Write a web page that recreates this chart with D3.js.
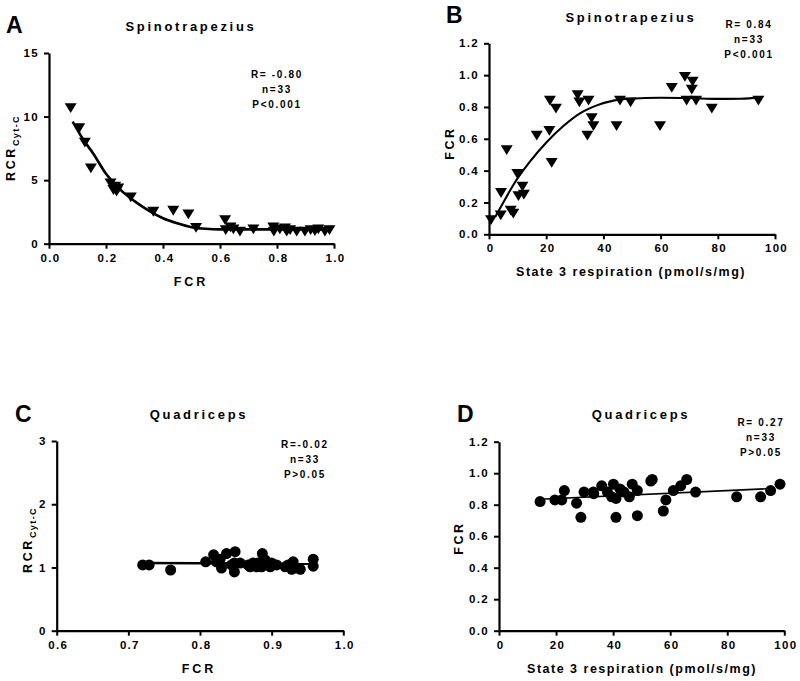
<!DOCTYPE html>
<html><head><meta charset="utf-8">
<script src="https://cdn.jsdelivr.net/npm/d3@7"></script>
<style>
body{margin:0;background:#fff;}
svg{display:block;font-family:"Liberation Sans",Arial,sans-serif;font-weight:bold;}
</style></head>
<body><svg id="c" width="800" height="681"></svg>
<script>
// ---- Panel A: Spinotrapezius, RCR vs FCR ----
const aFcr = [0.076,0.106,0.126,0.147,0.216,0.226,0.243,0.237,0.287,0.366,0.436,0.489,0.516,0.618,0.620,0.637,0.670,0.717,0.787,0.789,0.828,0.834,0.869,0.898,0.918,0.945,0.968,0.984,0.810,0.647,0.846,0.933,0.232];
const aRcr = [10.67,9.09,7.96,5.94,4.76,4.23,4.36,4.10,3.65,2.52,2.60,2.31,1.26,1.87,1.08,1.29,0.95,1.13,1.29,0.95,1.21,0.95,0.95,0.95,1.08,1.13,0.95,1.08,1.13,1.13,1.08,1.0,4.49];
const aFitX = [0.083,0.12,0.155,0.2,0.25,0.3,0.35,0.4,0.45,0.5,0.55,0.6,0.7,0.8,0.9,0.985];
const aFitY = [9.6,8.2,7.1,5.5,4.25,3.35,2.6,2.0,1.6,1.3,1.17,1.13,1.13,1.13,1.13,1.13];
const aXTicks = [0,0.2,0.4,0.6,0.8,1.0];
const aYTicks = [0,5,10,15];
const aStats = ["R= -0.80","n=33","P<0.001"];

// ---- Panel B: Spinotrapezius, FCR vs State 3 ----
const bState3 = [0.7,4.1,4.2,6.2,7.6,8.5,9.9,10.3,11.7,12.2,16.7,21.1,21.9,21.3,23.4,31.0,31.6,34.8,34.4,35.9,36.5,44.6,45.8,49.5,59.8,63.9,68.5,69.1,71.2,70.9,72.4,77.9,94.2];
const bFcr = [0.09,0.12,0.26,0.53,0.15,0.13,0.38,0.24,0.30,0.25,0.62,0.65,0.45,0.84,0.79,0.875,0.83,0.84,0.62,0.73,0.68,0.68,0.84,0.83,0.68,0.92,0.99,0.84,0.96,0.91,0.84,0.79,0.84];
const bFitX = [2.2,5,8.5,14.3,20.2,26,31.8,37.7,43.5,49.3,60,70,80,88,95];
const bFitY = [0.11,0.2,0.31,0.456,0.58,0.68,0.76,0.81,0.84,0.852,0.858,0.856,0.851,0.852,0.86];
const bXTicks = [0,20,40,60,80,100];
const bYTicks = [0,0.2,0.4,0.6,0.8,1.0,1.2];
const bStats = ["R= 0.84","n=33","P<0.001"];

// ---- Panel C: Quadriceps, RCR vs FCR ----
const cFcr = [0.720,0.729,0.759,0.808,0.819,0.823,0.830,0.837,0.849,0.848,0.848,0.867,0.874,0.881,0.887,0.888,0.900,0.898,0.919,0.930,0.928,0.940,0.958,0.958,0.828,0.844,0.886,0.870,0.907,0.923,0.879,0.891,0.856];
const cRcr = [1.04,1.04,0.96,1.09,1.20,1.09,0.99,1.22,1.25,1.07,0.93,1.04,1.07,1.07,1.22,1.04,1.07,1.01,1.01,1.09,0.97,0.97,1.13,1.02,1.13,1.04,1.01,1.01,1.04,1.04,1.01,1.12,1.07];
const cFitX = [0.72,0.96];
const cFitY = [1.07,1.06];
const cXTicks = [0.6,0.7,0.8,0.9,1.0];
const cYTicks = [0,1,2,3];
const cStats = ["R=-0.02","n=33","P>0.05"];

// ---- Panel D: Quadriceps, FCR vs State 3 ----
const dState3 = [14.4,19.6,22.0,22.9,27.2,28.7,29.8,33.1,33.2,36.0,40.1,39.5,41.0,41.0,42.4,43.8,45.7,46.7,48.5,48.5,53.2,53.7,57.6,58.5,61.1,63.7,65.8,68.9,83.3,91.7,95.2,98.5,38.0];
const dFcr = [0.82,0.83,0.83,0.89,0.81,0.72,0.88,0.88,0.87,0.92,0.93,0.85,0.84,0.72,0.90,0.88,0.85,0.93,0.89,0.73,0.95,0.96,0.76,0.83,0.89,0.92,0.96,0.88,0.85,0.85,0.89,0.93,0.88];
const dFitX = [14.4,96];
const dFitY = [0.835,0.903];
const dXTicks = [0,20,40,60,80,100];
const dYTicks = [0,0.2,0.4,0.6,0.8,1.0,1.2];
const dStats = ["R= 0.27","n=33","P>0.05"];

const svg = d3.select("#c");

function panel(o){
  const x = d3.scaleLinear().domain(o.xd).range([o.x0,o.x1]);
  const y = d3.scaleLinear().domain(o.yd).range([o.y0,o.y1]);
  const g = svg.append("g");
  const xa = g.append("g").attr("transform",`translate(0,${o.y0})`)
    .call(d3.axisBottom(x).tickValues(o.xt).tickFormat(o.xf).tickSize(5).tickPadding(5).tickSizeOuter(0));
  const ya = g.append("g").attr("transform",`translate(${o.x0},0)`)
    .call(d3.axisLeft(y).tickValues(o.yt).tickFormat(o.yf).tickSize(5).tickPadding(5).tickSizeOuter(0));
  [xa,ya].forEach(a=>{
    a.select(".domain").attr("stroke","#000").attr("stroke-width",2.2);
    a.selectAll(".tick line").attr("stroke","#000").attr("stroke-width",2);
    a.selectAll("text").attr("fill","#000").attr("font-size",11.5).attr("font-weight","bold")
      .attr("font-family","Liberation Sans, Arial, sans-serif").attr("letter-spacing",1.3);
  });
  xa.selectAll("text").attr("dx",1);
  // fit line
  const line = d3.line().x((d,i)=>x(o.fx[i])).y((d,i)=>y(o.fy[i])).curve(d3.curveMonotoneX);
  g.append("path").attr("d",line(o.fx)).attr("fill","none").attr("stroke","#000").attr("stroke-width",o.lw);
  // points
  const pts = g.append("g");
  o.px.forEach((v,i)=>{
    const cx = x(v), cy = y(o.py[i]);
    if(o.shape==="tri"){
      pts.append("path").attr("d",`M${cx-6},${cy-4.8}L${cx+6},${cy-4.8}L${cx},${cy+5}Z`).attr("fill","#000");
    } else {
      pts.append("circle").attr("cx",cx).attr("cy",cy).attr("r",5.5).attr("fill","#000");
    }
  });
  // panel letter
  svg.append("text").attr("x",o.lx).attr("y",o.ly).attr("font-size",23).attr("font-weight","bold").text(o.letter);
  // title
  svg.append("text").attr("x",o.tx).attr("y",o.ty).attr("text-anchor","middle").attr("font-size",13)
    .attr("letter-spacing",2.7).text(o.title);
  // stats
  o.stats.forEach((s,i)=>{
    svg.append("text").attr("x",o.sx).attr("y",o.sy+i*15).attr("text-anchor","middle").attr("font-size",10)
      .attr("letter-spacing",1.7).text(s);
  });
  // x label
  svg.append("text").attr("x",o.xlx).attr("y",o.xly).attr("text-anchor","middle").attr("font-size",12.5)
    .attr("letter-spacing",o.xls).text(o.xlabel);
  // y label
  const yl = svg.append("text").attr("transform",`translate(${o.ylx},${o.yly}) rotate(-90)`)
    .attr("text-anchor","middle").attr("font-size",12.5).attr("letter-spacing",2.6);
  yl.append("tspan").text(o.ylabel);
  if(o.ysub) yl.append("tspan").attr("font-size",9).attr("dy",4).attr("letter-spacing",1.4).text(o.ysub);
}

const f1 = d3.format(".1f"), f0 = d3.format("d");

panel({xd:[0,1],yd:[0,15],x0:49,x1:334,y0:243.7,y1:53,xt:aXTicks,yt:aYTicks,xf:f1,yf:f0,
  fx:aFitX,fy:aFitY,lw:2.6,px:aFcr,py:aRcr,shape:"tri",letter:"A",lx:6,ly:33,
  title:"Spinotrapezius",tx:191,ty:31,stats:aStats,sx:277,sy:78,
  xlabel:"FCR",xlx:191,xly:286,xls:3,ylabel:"RCR",ysub:"Cyt-C",ylx:15,yly:148});

panel({xd:[0,100],yd:[0,1.2],x0:489,x1:775,y0:234.3,y1:43.3,xt:bXTicks,yt:bYTicks,xf:f0,yf:f1,
  fx:bFitX,fy:bFitY,lw:2.1,px:bState3,py:bFcr,shape:"tri",letter:"B",lx:446,ly:23,
  title:"Spinotrapezius",tx:631,ty:22,stats:bStats,sx:749,sy:28,
  xlabel:"State 3 respiration (pmol/s/mg)",xlx:631,xly:276,xls:1.5,ylabel:"FCR",ylx:454,yly:143});

panel({xd:[0.6,1.0],yd:[0,3],x0:56.7,x1:343.3,y0:630.7,y1:441,xt:cXTicks,yt:cYTicks,xf:f1,yf:f0,
  fx:cFitX,fy:cFitY,lw:2.6,px:cFcr,py:cRcr,shape:"circ",letter:"C",lx:15,ly:422,
  title:"Quadriceps",tx:199,ty:419,stats:cStats,sx:305,sy:448,
  xlabel:"FCR",xlx:199,xly:673,xls:3,ylabel:"RCR",ysub:"Cyt-C",ylx:32,yly:540});

panel({xd:[0,100],yd:[0,1.2],x0:499,x1:784.3,y0:630.7,y1:441.7,xt:dXTicks,yt:dYTicks,xf:f0,yf:f1,
  fx:dFitX,fy:dFitY,lw:1.6,px:dState3,py:dFcr,shape:"circ",letter:"D",lx:457,ly:422,
  title:"Quadriceps",tx:641,ty:419,stats:dStats,sx:761,sy:426,
  xlabel:"State 3 respiration (pmol/s/mg)",xlx:642,xly:673,xls:1.5,ylabel:"FCR",ylx:463,yly:538});
</script></body></html>
